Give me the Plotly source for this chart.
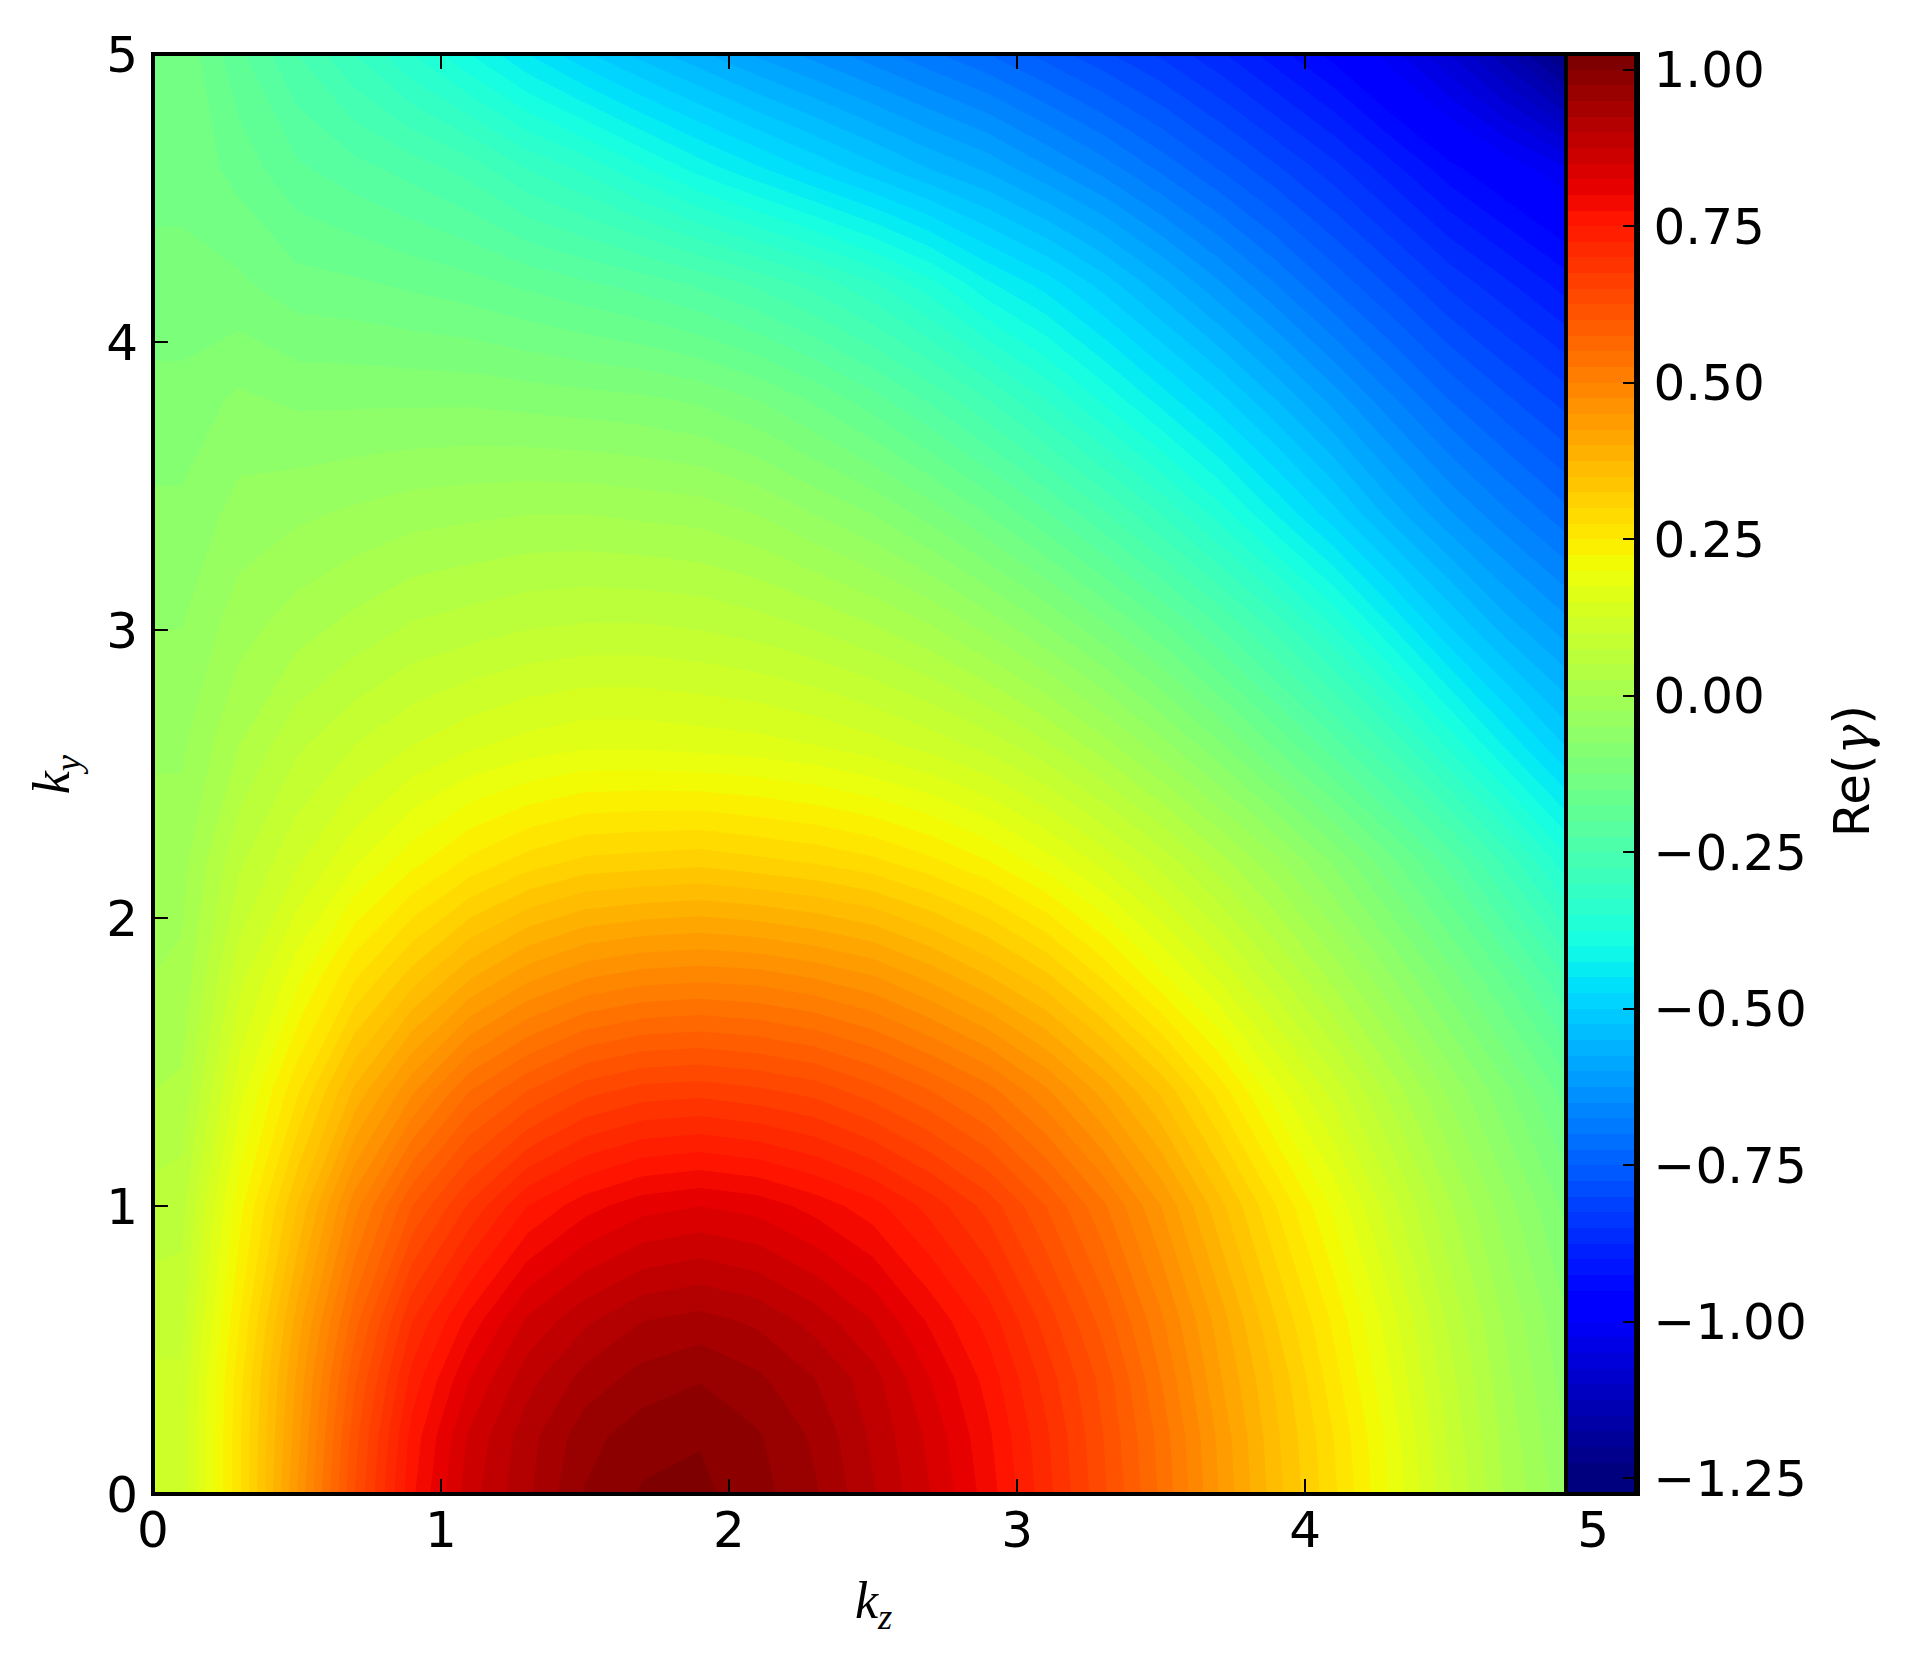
import plotly.graph_objects as go

# grid of the contour field
kz = [0, 0.1, 0.3, 0.5, 0.7, 0.9, 1.1, 1.3, 1.5, 1.7, 1.9, 2.1, 2.3, 2.5, 2.7, 2.9, 3.1, 3.3, 3.5, 3.7, 3.9, 4.1, 4.3, 4.5, 4.7, 4.9]
ky = [0, 0.2, 0.4, 0.6, 1.0, 1.4, 1.8, 2.2, 2.6, 3.0, 3.4, 3.8, 4.2, 4.6, 5.0]

gamma_re = [
    [0.11, 0.11, 0.27, 0.45, 0.625, 0.77, 0.865, 0.92, 0.977, 1.003, 1.006, 0.985, 0.953, 0.903, 0.85, 0.788, 0.71, 0.63, 0.545, 0.45, 0.36, 0.28, 0.195, 0.105, 0.02, -0.04],
    [0.11, 0.11, 0.27, 0.44, 0.615, 0.76, 0.855, 0.915, 0.965, 0.99, 0.998, 0.978, 0.945, 0.895, 0.843, 0.78, 0.705, 0.625, 0.54, 0.445, 0.355, 0.275, 0.19, 0.095, 0.015, -0.05],
    [0.105, 0.105, 0.265, 0.43, 0.595, 0.735, 0.825, 0.89, 0.935, 0.96, 0.973, 0.955, 0.925, 0.885, 0.825, 0.765, 0.69, 0.615, 0.525, 0.43, 0.345, 0.26, 0.175, 0.085, 0.005, -0.06],
    [0.09, 0.09, 0.25, 0.41, 0.565, 0.70, 0.785, 0.855, 0.895, 0.925, 0.935, 0.92, 0.89, 0.85, 0.795, 0.74, 0.665, 0.59, 0.505, 0.415, 0.325, 0.245, 0.16, 0.07, -0.005, -0.07],
    [0.06, 0.065, 0.215, 0.35, 0.49, 0.60, 0.68, 0.75, 0.79, 0.815, 0.825, 0.815, 0.79, 0.76, 0.715, 0.665, 0.60, 0.53, 0.45, 0.36, 0.275, 0.195, 0.11, 0.03, -0.04, -0.105],
    [0.025, 0.03, 0.165, 0.27, 0.38, 0.47, 0.55, 0.60, 0.64, 0.66, 0.665, 0.655, 0.64, 0.61, 0.575, 0.535, 0.48, 0.415, 0.345, 0.265, 0.185, 0.115, 0.04, -0.03, -0.095, -0.16],
    [0.0, 0.005, 0.115, 0.19, 0.27, 0.335, 0.395, 0.44, 0.47, 0.485, 0.49, 0.485, 0.47, 0.45, 0.415, 0.375, 0.33, 0.27, 0.205, 0.145, 0.08, 0.015, -0.05, -0.115, -0.18, -0.25],
    [-0.01, -0.01, 0.07, 0.12, 0.17, 0.215, 0.255, 0.285, 0.305, 0.31, 0.315, 0.305, 0.295, 0.28, 0.255, 0.225, 0.185, 0.14, 0.09, 0.035, -0.02, -0.08, -0.145, -0.21, -0.285, -0.365],
    [-0.03, -0.03, 0.025, 0.07, 0.10, 0.125, 0.145, 0.16, 0.17, 0.17, 0.165, 0.16, 0.15, 0.135, 0.115, 0.09, 0.055, 0.01, -0.04, -0.095, -0.155, -0.215, -0.28, -0.355, -0.43, -0.50],
    [-0.05, -0.05, -0.01, 0.015, 0.035, 0.055, 0.065, 0.075, 0.08, 0.08, 0.075, 0.065, 0.05, 0.03, 0.005, -0.03, -0.07, -0.115, -0.165, -0.22, -0.28, -0.345, -0.42, -0.495, -0.56, -0.61],
    [-0.07, -0.07, -0.04, -0.03, -0.02, -0.01, -0.005, 0.0, 0.0, -0.005, -0.01, -0.025, -0.05, -0.075, -0.11, -0.15, -0.195, -0.245, -0.30, -0.36, -0.425, -0.49, -0.56, -0.62, -0.67, -0.715],
    [-0.09, -0.09, -0.07, -0.08, -0.08, -0.08, -0.08, -0.085, -0.09, -0.095, -0.105, -0.125, -0.155, -0.19, -0.23, -0.275, -0.325, -0.38, -0.435, -0.49, -0.55, -0.61, -0.67, -0.725, -0.77, -0.81],
    [-0.12, -0.12, -0.12, -0.14, -0.145, -0.155, -0.165, -0.18, -0.195, -0.21, -0.23, -0.255, -0.285, -0.32, -0.365, -0.42, -0.46, -0.51, -0.565, -0.62, -0.675, -0.73, -0.78, -0.83, -0.87, -0.91],
    [-0.13, -0.13, -0.16, -0.195, -0.215, -0.235, -0.26, -0.30, -0.33, -0.37, -0.41, -0.445, -0.48, -0.515, -0.55, -0.58, -0.62, -0.66, -0.705, -0.75, -0.795, -0.84, -0.89, -0.94, -0.98, -1.02],
    [-0.13, -0.13, -0.195, -0.25, -0.30, -0.35, -0.40, -0.45, -0.495, -0.535, -0.57, -0.605, -0.635, -0.665, -0.695, -0.725, -0.76, -0.795, -0.83, -0.87, -0.915, -0.96, -1.015, -1.075, -1.145, -1.23],
]

# matplotlib jet, positions moved by one band so each band gets the same colour as in the reference
jet = [
    [0, "rgb(0,0,127)"], [0.0163, "rgb(0,0,127)"], [0.1251, "rgb(0,0,255)"], [0.14, "rgb(0,0,255)"],
    [0.3526, "rgb(0,219,255)"], [0.3625, "rgb(0,230,247)"], [0.3872, "rgb(21,255,226)"],
    [0.6494, "rgb(238,255,8)"], [0.6593, "rgb(247,246,0)"], [0.6692, "rgb(255,236,0)"],
    [0.8967, "rgb(255,19,0)"], [0.9164, "rgb(232,0,0)"], [0.9946, "rgb(140,0,0)"], [1, "rgb(127,0,0)"],
]

FS = 50

fig = go.Figure(go.Contour(
    x=kz, y=ky, z=gamma_re,
    colorscale=jet,
    zmin=-1.275, zmax=1.025,
    autocontour=False,
    contours=dict(start=-1.275, end=1.025, size=0.025, coloring="fill", showlines=False),
    line=dict(width=0, smoothing=0),
    colorbar=dict(
        x=(1566 - 153) / (1638 - 153), xanchor="left", xpad=0,
        y=0, yanchor="bottom", ypad=0, len=1,
        thickness=70, thicknessmode="pixels",
        outlinewidth=4, outlinecolor="black", borderwidth=0,
        tick0=-1.25, dtick=0.25, tickformat=".2f",
        ticks="inside", ticklen=15, tickwidth=2, tickcolor="black",
        tickprefix="\u200a",
        tickfont=dict(family="DejaVu Sans", size=FS, color="black"),
    ),
))

# plotly puts axis lines outside the plot area, the frame is drawn as a shape instead
axis_style = dict(
    showline=True, linewidth=0, mirror="ticks",
    ticks="inside", ticklen=15, tickwidth=2, tickcolor="black",
    showgrid=False, zeroline=False, dtick=1, tick0=0,
    tickfont=dict(family="DejaVu Sans", size=FS, color="black"),
)

fig.update_xaxes(range=[0, 5.156], ticklabelstandoff=-8, **axis_style)
fig.update_yaxes(range=[0, 5], ticklabelstandoff=4, **axis_style)

fig.add_shape(type="rect", xref="paper", yref="paper", x0=0, x1=1, y0=0, y1=1,
              line=dict(color="black", width=4), layer="above")

fig.add_annotation(text="<i>k<sub>z</sub></i>", x=2.5, xref="x", y=-0.101, yref="paper",
                   showarrow=False, font=dict(family="Liberation Serif", size=52, color="black"))
fig.add_annotation(text="<i>k<sub>y</sub></i>", x=-0.089, xref="paper", y=2.5, yref="y", textangle=-90,
                   showarrow=False, font=dict(family="Liberation Serif", size=52, color="black"))
fig.add_annotation(text='Re(<span style="font-family:DejaVu Serif"><i>γ</i></span>)',
                   x=1.165, xref="paper", y=2.51, yref="y", textangle=-90,
                   showarrow=False, font=dict(family="DejaVu Sans", size=FS, color="black"))

fig.update_layout(
    width=1912, height=1657, autosize=False,
    margin=dict(l=153, r=1912 - 1638, t=54, b=1657 - 1494, pad=0),
    paper_bgcolor="white", plot_bgcolor="white",
    showlegend=False,
)

fig.write_html("out.html", config={"displayModeBar": False},
               post_script="document.body.style.margin='0';")
